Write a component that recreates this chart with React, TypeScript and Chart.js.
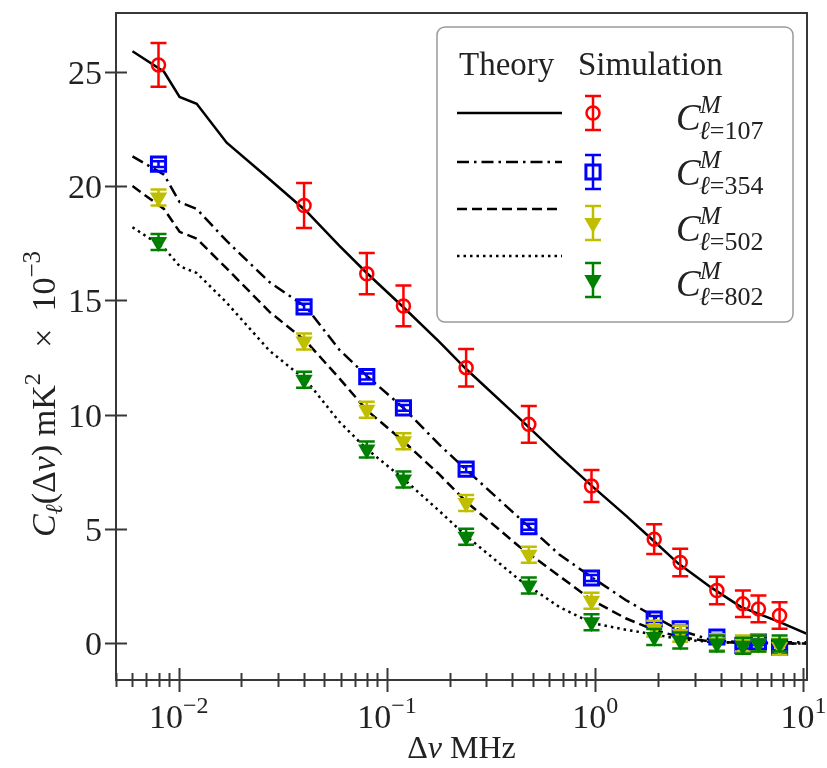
import React, { useEffect, useRef } from 'react';
import { Chart, registerables } from 'chart.js';

Chart.register(...registerables);

// Frequency separations (MHz) of the simulated points
const freqMHz = [0.008, 0.04, 0.08, 0.12, 0.24, 0.48, 0.96, 1.92, 2.56, 3.84, 5.12, 6.08, 7.68];

// Simulated C_l(Δν) in mK^2 × 10^-3, with 1σ errors
const simL107 = [25.3, 19.15, 16.17, 14.76, 12.06, 9.58, 6.88, 4.56, 3.54, 2.31, 1.73, 1.51, 1.22];
const errL107 = [0.96, 0.98, 0.9, 0.89, 0.82, 0.8, 0.7, 0.65, 0.6, 0.6, 0.58, 0.58, 0.58];
const simL354 = [20.96, 14.72, 11.67, 10.3, 7.62, 5.1, 2.86, 1.07, 0.64, 0.28, -0.09, 0.06, -0.16];
const errL354 = [0.13, 0.13, 0.13, 0.13, 0.13, 0.13, 0.13, 0.13, 0.13, 0.13, 0.13, 0.13, 0.13];
const simL502 = [19.5, 13.2, 10.22, 8.84, 6.14, 3.88, 1.87, 0.64, 0.42, 0.05, 0.0, 0.0, -0.15];
const errL502 = [0.35, 0.35, 0.35, 0.35, 0.35, 0.35, 0.35, 0.35, 0.35, 0.35, 0.35, 0.35, 0.35];
const simL802 = [17.55, 11.53, 8.48, 7.17, 4.66, 2.53, 0.93, 0.28, 0.13, 0.0, -0.1, 0.0, 0.0];
const errL802 = [0.35, 0.35, 0.35, 0.35, 0.35, 0.35, 0.35, 0.35, 0.35, 0.35, 0.35, 0.35, 0.35];

// Theoretical curves
const theoryFreq = [0.006, 0.0085, 0.0101, 0.0122, 0.017, 0.0273, 0.041, 0.059, 0.08, 0.12, 0.178, 0.24, 0.43, 0.67, 0.96, 1.4, 1.9, 2.5, 3.6, 5.0, 7.6, 10.4];
const theoryL107 = [25.9, 25.0, 23.9, 23.6, 21.9, 20.3, 18.9, 17.4, 16.2, 14.7, 13.2, 12.0, 9.86, 8.2, 6.9, 5.6, 4.5, 3.5, 2.45, 1.6, 0.95, 0.42];
const theoryL354 = [21.3, 20.5, 19.3, 19.0, 17.6, 15.8, 14.7, 12.85, 11.7, 10.3, 8.7, 7.6, 5.5, 3.9, 2.9, 1.9, 1.2, 0.6, 0.15, 0.05, 0.05, 0.05];
const theoryL502 = [20.0, 19.0, 18.0, 17.7, 16.4, 14.5, 13.2, 11.6, 10.2, 8.84, 7.4, 6.2, 4.25, 2.96, 1.9, 1.1, 0.6, 0.3, 0.08, 0.02, 0.0, 0.0];
const theoryL802 = [18.2, 17.3, 16.5, 16.2, 14.9, 12.8, 11.5, 9.7, 8.5, 7.2, 5.8, 4.7, 2.8, 1.6, 0.9, 0.6, 0.4, 0.2, 0.06, 0.03, 0.0, 0.0];

// Axis ticks and legend text
const yTickValues = [0, 5, 10, 15, 20, 25];
const xDecadeExponents = [-2, -1, 0, 1];
const multipoleLabels = ['107', '354', '502', '802'];
const legendHeaders = ['Theory', 'Simulation'];

const SERIF = '"Liberation Serif", "DejaVu Serif", serif';
const RED = '#ff0000';
const BLUE = '#0000ff';
const OLIVE = '#bfbf00';
const GREEN = '#008000';
const SPINE = '#383838';

type Seg = { t: string; s: number; it?: boolean; dy?: number };

function segFont(seg: Seg) {
  return `${seg.it ? 'italic ' : ''}${seg.s}px ${SERIF}`;
}

function measureSegs(ctx: CanvasRenderingContext2D, segs: Seg[]) {
  let w = 0;
  for (const sg of segs) {
    ctx.font = segFont(sg);
    w += ctx.measureText(sg.t).width;
  }
  return w;
}

function drawSegs(ctx: CanvasRenderingContext2D, segs: Seg[], x: number, y: number) {
  let cx = x;
  ctx.textAlign = 'left';
  ctx.textBaseline = 'alphabetic';
  for (const sg of segs) {
    ctx.font = segFont(sg);
    ctx.fillText(sg.t, cx, y + (sg.dy || 0));
    cx += ctx.measureText(sg.t).width;
  }
  return cx;
}

function drawErrorBar(ctx: CanvasRenderingContext2D, x: number, yTop: number, yBot: number, capHalf: number, color: string) {
  ctx.save();
  ctx.strokeStyle = color;
  ctx.lineWidth = 2.5;
  ctx.setLineDash([]);
  ctx.beginPath();
  ctx.moveTo(x, yTop);
  ctx.lineTo(x, yBot);
  ctx.moveTo(x - capHalf, yTop);
  ctx.lineTo(x + capHalf, yTop);
  ctx.moveTo(x - capHalf, yBot);
  ctx.lineTo(x + capHalf, yBot);
  ctx.stroke();
  ctx.restore();
}

function drawMarker(ctx: CanvasRenderingContext2D, kind: string, x: number, y: number, r: number, color: string) {
  ctx.save();
  ctx.setLineDash([]);
  ctx.beginPath();
  if (kind === 'circle') {
    ctx.arc(x, y, r, 0, Math.PI * 2);
    ctx.strokeStyle = color;
    ctx.lineWidth = 2.5;
    ctx.stroke();
  } else if (kind === 'rect') {
    const h = r * Math.SQRT1_2;
    ctx.rect(x - h, y - h, 2 * h, 2 * h);
    ctx.strokeStyle = color;
    ctx.lineWidth = 3;
    ctx.stroke();
  } else {
    // downward triangle
    for (let k = 0; k < 3; k++) {
      const a = Math.PI + k * (2 * Math.PI / 3);
      const px = x + Math.sin(a) * r;
      const py = y - Math.cos(a) * r;
      if (k === 0) ctx.moveTo(px, py); else ctx.lineTo(px, py);
    }
    ctx.closePath();
    ctx.fillStyle = color;
    ctx.fill();
  }
  ctx.restore();
}

const errorBarPlugin = {
  id: 'errorBars',
  beforeDatasetDraw(chart: any, args: any) {
    const ds = chart.data.datasets[args.index];
    if (!ds.errors) return;
    const ctx = chart.ctx;
    const yScale = chart.scales.y;
    const area = chart.chartArea;
    ctx.save();
    ctx.beginPath();
    ctx.rect(area.left, area.top, area.right - area.left, area.bottom - area.top);
    ctx.clip();
    args.meta.data.forEach((el: any, i: number) => {
      const v = ds.data[i].y;
      const e = ds.errors[i];
      drawErrorBar(ctx, el.x, yScale.getPixelForValue(v + e), yScale.getPixelForValue(v - e), ds.capHalf, ds.borderColor);
    });
    ctx.restore();
  },
};

const framePlugin = {
  id: 'frame',
  afterDraw(chart: any) {
    const ctx: CanvasRenderingContext2D = chart.ctx;
    const { left, right, top, bottom } = chart.chartArea;
    const xs = chart.scales.x;
    const ys = chart.scales.y;
    ctx.save();

    // spines
    ctx.strokeStyle = SPINE;
    ctx.lineWidth = 2;
    ctx.setLineDash([]);
    ctx.strokeRect(left, top, right - left, bottom - top);

    // y ticks (in-out) and labels
    ctx.fillStyle = '#222';
    for (const v of yTickValues) {
      const py = Math.round(ys.getPixelForValue(v)) + 0.5;
      ctx.beginPath();
      ctx.moveTo(left - 11, py);
      ctx.lineTo(left + 11, py);
      ctx.lineWidth = 2;
      ctx.stroke();
      ctx.font = `34px ${SERIF}`;
      ctx.textAlign = 'right';
      ctx.textBaseline = 'alphabetic';
      ctx.fillText(String(v), left - 14, py + 11);
    }

    // x ticks: majors at decades, minors at 2..9
    const xMin = xs.min;
    const xMax = xs.max;
    for (let e = -3; e <= 1; e++) {
      for (let m = 1; m <= 9; m++) {
        const f = m * Math.pow(10, e);
        if (f < xMin * 0.999 || f > xMax * 1.001) continue;
        const px = Math.round(xs.getPixelForValue(f)) + 0.5;
        const len = m === 1 ? 12 : 7;
        ctx.beginPath();
        ctx.moveTo(px, bottom - len);
        ctx.lineTo(px, bottom + len);
        ctx.lineWidth = 2;
        ctx.stroke();
      }
    }
    for (const e of xDecadeExponents) {
      const px = xs.getPixelForValue(Math.pow(10, e));
      const segs: Seg[] = [
        { t: '10', s: 34 },
        { t: e < 0 ? `\u2212${-e}` : String(e), s: 24, dy: -15 },
      ];
      const w = measureSegs(ctx, segs);
      drawSegs(ctx, segs, px - w / 2, 728);
    }

    // x-axis title
    const xTitle: Seg[] = [
      { t: '\u0394', s: 32 },
      { t: '\u03bd', s: 32, it: true },
      { t: ' MHz', s: 32 },
    ];
    const xtw = measureSegs(ctx, xTitle);
    drawSegs(ctx, xTitle, (left + right) / 2 - xtw / 2, 758);

    // y-axis title (rotated)
    const yTitle: Seg[] = [
      { t: 'C', s: 34, it: true },
      { t: '\u2113', s: 24, it: true, dy: 7 },
      { t: '(\u0394', s: 34 },
      { t: '\u03bd', s: 34, it: true },
      { t: ')', s: 34 },
      { t: ' mK', s: 34 },
      { t: '2', s: 24, dy: -15 },
      { t: '   \u00d7  10', s: 34 },
      { t: '\u22123', s: 25, dy: -15 },
    ];
    const ytw = measureSegs(ctx, yTitle);
    ctx.save();
    ctx.translate(55, 394);
    ctx.rotate(-Math.PI / 2);
    drawSegs(ctx, yTitle, -ytw / 2, 0);
    ctx.restore();

    ctx.restore();
  },
};

const legendPlugin = {
  id: 'customLegend',
  afterDatasetsDraw(chart: any) {
    const ctx: CanvasRenderingContext2D = chart.ctx;
    ctx.save();
    // frame
    ctx.beginPath();
    (ctx as any).roundRect(437, 27, 356, 295, 8);
    ctx.fillStyle = 'rgba(255,255,255,0.8)';
    ctx.fill();
    ctx.strokeStyle = '#9a9a9a';
    ctx.lineWidth = 1.5;
    ctx.stroke();

    // headers
    ctx.fillStyle = '#222';
    ctx.font = `33px ${SERIF}`;
    ctx.textAlign = 'left';
    ctx.textBaseline = 'alphabetic';
    ctx.fillText(legendHeaders[0], 459, 75);
    ctx.fillText(legendHeaders[1], 578, 75);

    // theory line samples
    const lineRows = [113, 162, 209, 256];
    const dashes = [[], [12, 5, 2.5, 5], [10, 5], [2.5, 4]];
    lineRows.forEach((yy, i) => {
      ctx.beginPath();
      ctx.setLineDash(dashes[i]);
      ctx.strokeStyle = '#000';
      ctx.lineWidth = 2.5;
      ctx.moveTo(457, yy);
      ctx.lineTo(562, yy);
      ctx.stroke();
    });
    ctx.setLineDash([]);

    // simulation handles
    const markerRows = [113, 172, 223, 280];
    const kinds = ['circle', 'rect', 'tri', 'tri'];
    const colors = [RED, BLUE, OLIVE, GREEN];
    const radii = [6.5, 10, 10, 10];
    markerRows.forEach((yy, i) => {
      drawErrorBar(ctx, 593, yy - 17, yy + 17, 8, colors[i]);
      drawMarker(ctx, kinds[i], 593, yy, radii[i], colors[i]);
    });

    // labels C^M_{l=...}
    const labelRows = [117, 172, 228, 283];
    ctx.fillStyle = '#222';
    labelRows.forEach((yc) => yc);
    labelRows.forEach((yc, i) => {
      ctx.font = `italic 37px ${SERIF}`;
      ctx.textAlign = 'left';
      ctx.fillText('C', 676, yc + 13);
      ctx.font = `italic 25px ${SERIF}`;
      ctx.fillText('M', 700, yc - 4);
      drawSegs(ctx, [
        { t: '\u2113', s: 26, it: true },
        { t: '=' + multipoleLabels[i], s: 26 },
      ], 699, yc + 22);
    });
    ctx.restore();
  },
};

function pts(xs: number[], ys: number[]) {
  return xs.map((x, i) => ({ x, y: ys[i] }));
}

export default function App() {
  const canvasRef = useRef<HTMLCanvasElement | null>(null);

  useEffect(() => {
    const canvas = canvasRef.current;
    if (!canvas) return;

    const sim = (label: string, ys: number[], errs: number[], color: string, style: string, radius: number, rotation: number, filled: boolean, capHalf: number, borderW: number) => ({
      label,
      data: pts(freqMHz, ys),
      errors: errs,
      capHalf,
      showLine: false,
      borderColor: color,
      backgroundColor: filled ? color : 'rgba(255,255,255,0)',
      pointStyle: style,
      pointRadius: radius,
      pointRotation: rotation,
      pointBorderWidth: filled ? 0 : borderW,
      pointBorderColor: color,
      pointBackgroundColor: filled ? color : 'rgba(255,255,255,0)',
    });

    const theory = (label: string, ys: number[], dash: number[]) => ({
      label,
      data: pts(theoryFreq, ys),
      borderColor: '#000',
      borderWidth: 2.5,
      borderDash: dash,
      pointRadius: 0,
      tension: 0,
      fill: false,
    });

    const chart = new Chart(canvas, {
      type: 'line',
      data: {
        datasets: [
          sim('l=802', simL802, errL802, GREEN, 'triangle', 10, 180, true, 8, 0),
          sim('l=502', simL502, errL502, OLIVE, 'triangle', 10, 180, true, 8, 0),
          sim('l=354', simL354, errL354, BLUE, 'rect', 10, 0, false, 6, 3),
          sim('l=107', simL107, errL107, RED, 'circle', 6.5, 0, false, 8, 2.5),
          theory('theory l=107', theoryL107, []),
          theory('theory l=354', theoryL354, [12, 5, 2.5, 5]),
          theory('theory l=502', theoryL502, [10, 5]),
          theory('theory l=802', theoryL802, [2.5, 4]),
        ] as any,
      },
      options: {
        animation: false,
        responsive: false,
        devicePixelRatio: 1,
        layout: { padding: { left: 116, right: 20, top: 10, bottom: 88 } },
        plugins: { legend: { display: false }, tooltip: { enabled: false } },
        scales: {
          x: { type: 'logarithmic', min: 0.005, max: 10.4, display: false },
          y: { type: 'linear', min: -1.6, max: 27.57, display: false },
        },
      },
      plugins: [errorBarPlugin, framePlugin, legendPlugin],
    });

    return () => chart.destroy();
  }, []);

  return (
    <div style={{ position: 'absolute', left: 0, top: 0, width: 827, height: 768, background: '#fff' }}>
      <canvas ref={canvasRef} width={827} height={768} style={{ display: 'block' }} />
    </div>
  );
}
